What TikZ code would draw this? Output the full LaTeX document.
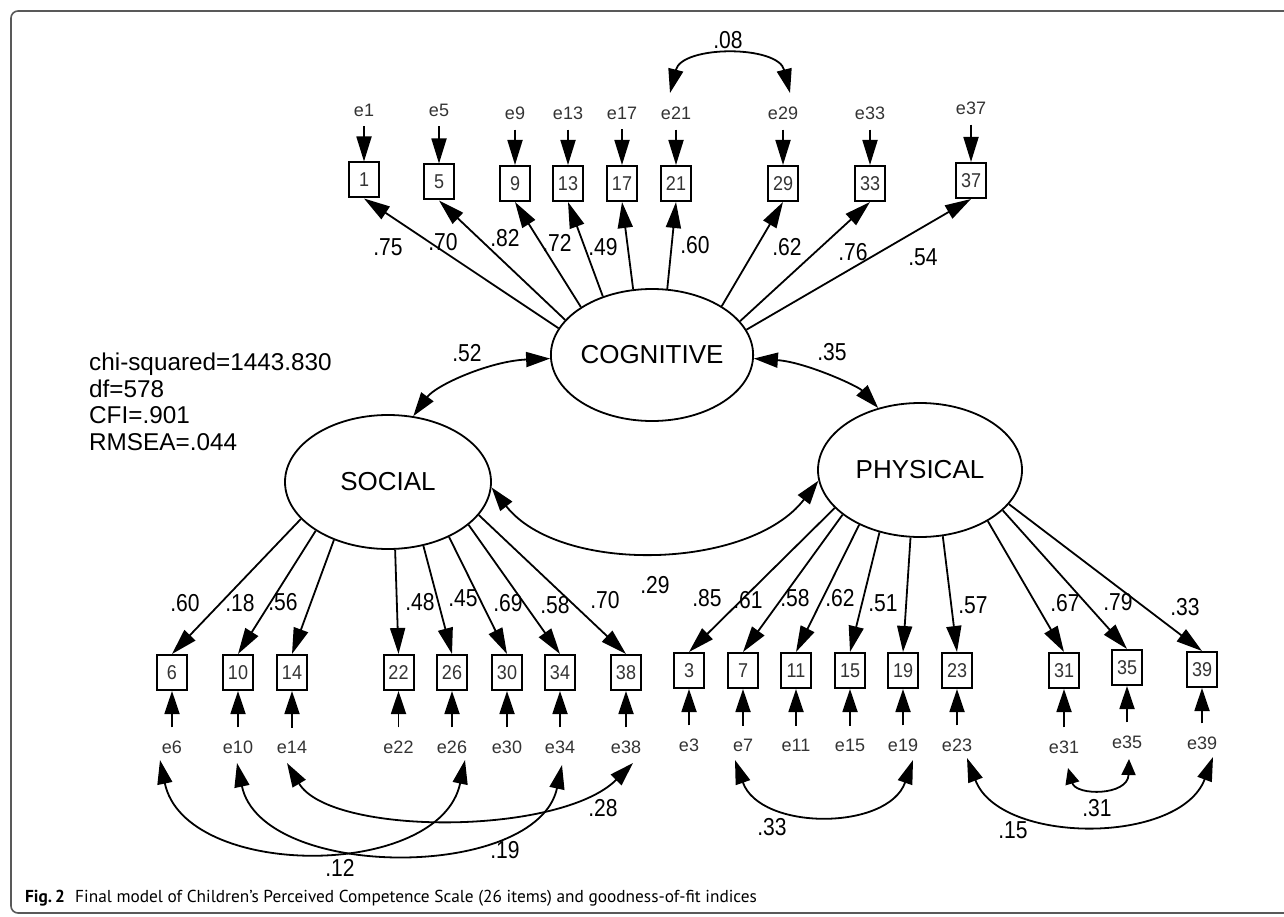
\documentclass[tikz,border=0pt]{standalone}
\usepackage{fontspec}
\setmainfont{Liberation Sans}
\newfontfamily\capfont{PT Sans}
\newfontfamily\narrowfont[FakeStretch=0.86]{Liberation Sans}
\newfontfamily\boxfont[FakeStretch=0.9]{Liberation Sans}
\usetikzlibrary{arrows.meta,shapes.geometric}
\begin{document}
\begin{tikzpicture}[x=1pt,y=-1pt,
  latent/.style={ellipse, draw, line width=1.8pt, minimum width=202pt, minimum height=132pt, inner sep=0pt, font=\fontsize{26}{28}\selectfont},
  obs/.style={rectangle, draw, line width=2pt, minimum width=30pt, minimum height=35pt, inner sep=0pt, font=\boxfont\fontsize{20}{22}\selectfont, text=black!80},
  err/.style={inner sep=0pt, font=\fontsize{18}{20}\selectfont, text=black!80},
  lab/.style={inner sep=0pt, font=\narrowfont\fontsize{24.5}{26}\selectfont},
  stat/.style={inner sep=0pt, anchor=base west, font=\fontsize{24.3}{26}\selectfont},
  loadarr/.style={line width=1.8pt, -{Triangle[length=26pt,width=15pt]}},
  errtop/.style={line width=1.8pt, -{Triangle[length=25pt,width=15pt]}, shorten <=10pt},
  errbot/.style={line width=1.8pt, -{Triangle[length=23pt,width=15pt]}, shorten <=13pt},
  covarr/.style={line width=1.8pt, {Triangle[length=24pt,width=15pt]}-{Triangle[length=24pt,width=15pt]}},
  smallcov/.style={line width=1.8pt, {Triangle[length=16pt,width=14pt]}-{Triangle[length=16pt,width=14pt]}}
]
\useasboundingbox (0,0) rectangle (1284,917);
\begin{scope}
\clip (0,0) rectangle (1284,917);
\draw[line width=1.6pt, black!65, rounded corners=7pt] (1320,913) -- (11,913) -- (11,11) -- (1320,11);
\end{scope}

% latent variables
\node[latent] (cog) at (652,355) {COGNITIVE};
\node[latent, minimum width=206pt, minimum height=134pt] (soc) at (388,482) {SOCIAL};
\node[latent, minimum width=204pt, minimum height=134pt] (phys) at (920,470) {PHYSICAL};

% top observed
\foreach \n/\x/\y in {1/364/180, 5/439/182, 9/515/183.5, 13/568/183.5, 17/622/183.5, 21/676/183.5, 29/783/183.5, 33/870/183.5, 37/971/180.5}
  \node[obs] (b\n) at (\x,\y) {\n};
\foreach \n/\x/\y in {1/364/110, 5/439/110, 9/515/113, 13/568/113, 17/622/113, 21/676/113, 29/783/113, 33/870/113, 37/971/108}
  \node[err] (e\n) at (\x,\y) {e\n};
\foreach \n in {1,5,9,13,17,21,29,33,37}
  \draw[errtop] (e\n.south) -- (b\n.north);
\foreach \n/\a in {1/164, 5/158, 9/146, 13/130, 17/106, 21/77, 29/35, 33/21, 37/15}
  \draw[loadarr] (cog.\a) -- (b\n.south);

% bottom observed
\foreach \n/\x/\y in {6/172/672.5, 10/238/672.5, 14/292/672.5, 22/398.5/672.5, 26/452/672.5, 30/507/672.5, 34/560/672.5, 38/626/672.5,
  3/689/670.5, 7/743/670.5, 11/796/670.5, 15/850/670.5, 19/903/670.5, 23/957/670.5, 31/1064/670.5, 35/1127/667.5, 39/1202/669.5}
  \node[obs] (b\n) at (\x,\y) {\n};
\foreach \n/\x/\y in {6/172/747, 10/238/747, 14/292/747, 22/398.5/747, 26/452/747, 30/507/747, 34/560/747, 38/626/747,
  3/689/745, 7/743/745, 11/796/745, 15/850/745, 19/903/745, 23/957/745, 31/1064/747, 35/1127/742, 39/1202/743}
  \node[err] (e\n) at (\x,\y) {e\n};
\foreach \n in {6,10,14,22,26,30,34,38,3,7,11,15,19,23,31,35,39}
  \draw[errbot] (e\n.north) -- (b\n.south);
\foreach \n/\a in {6/203, 10/214, 14/227, 22/276, 26/299, 30/318, 34/332, 38/340}
  \draw[loadarr] (soc.\a) -- (b\n.north);
\foreach \n/\a in {3/204, 7/210, 11/222, 15/237, 19/262, 23/289, 31/323, 35/334, 39/339}
  \draw[loadarr] (phys.\a) -- (b\n.north);

% factor covariances
\draw[covarr] (cog.182) .. controls (490,361) and (436,385) .. (soc.69);
\draw[covarr] (cog.358) .. controls (805,362) and (858,386) .. (phys.124);
\draw[covarr] (soc.357) .. controls (560,575) and (750,570) .. (phys.186);

% error covariances
\draw[covarr] ([shift={(-6,-20)}]e21.center) .. controls (682,45) and (778,45) .. ([shift={(7,-20)}]e29.center);
\draw[covarr] ([shift={(-12,13)}]e6.center) .. controls (185,880) and (440,880) .. ([shift={(13,13)}]e26.center);
\draw[covarr] ([shift={(-1,16)}]e10.center) .. controls (262,881) and (537,881) .. ([shift={(2,18)}]e34.center);
\draw[covarr] ([shift={(-5,16)}]e14.center) .. controls (330,836) and (560,836) .. ([shift={(7,16)}]e38.center);
\draw[covarr] ([shift={(-8,15)}]e7.center) .. controls (760,831) and (888,831) .. ([shift={(10,15)}]e19.center);
\draw[covarr] ([shift={(10,13)}]e23.center) .. controls (1000,845) and (1180,845) .. ([shift={(11,14)}]e39.center);
\draw[smallcov] ([shift={(4,21)}]e31.center) .. controls (1076,796) and (1128,796) .. ([shift={(2,17)}]e35.center);

% loading labels
\foreach \t/\x/\y [count=\i] in {.75/388/247, .70/443/242, .82/505/238, .72/557/243, .49/603/247, .60/695/245, .62/787/247, .76/853/252, .54/923/257,
  .60/185/603, .18/240/603, .56/283/602, .48/420/602, .45/463/598, .69/508/603, .58/555/605, .70/605/600,
  .85/707/598, .61/748/600, .58/795/598, .62/840/598, .51/883/603, .57/973/605, .67/1065/603, .79/1118/602, .33/1185/607}
  \node[lab] (l\i) at (\x,\y) {\t};
% covariance labels
\foreach \t/\x/\y [count=\i] in {.08/728/40, .52/467/353, .35/832/352, .29/655/585, .12/340/868, .19/505/850, .28/603/808, .33/772/827, .31/1097/808, .15/1013/830}
  \node[lab] (c\i) at (\x,\y) {\t};

% fit indices
\node[stat] (s1) at (89,370.5) {chi-squared=1443.830};
\node[stat] (s2) at (89,397) {df=578};
\node[stat] (s3) at (89,423.5) {CFI=.901};
\node[stat] (s4) at (89,450.5) {RMSEA=.044};

% caption
\node[inner sep=0pt, anchor=base west, font=\capfont\fontsize{17.3}{20}\selectfont] (cap) at (25,902)
  {\textbf{Fig.\,2}\hspace{0.6em}Final model of Children’s Perceived Competence Scale (26 items) and goodness-of-fit indices};
\end{tikzpicture}
\end{document}
